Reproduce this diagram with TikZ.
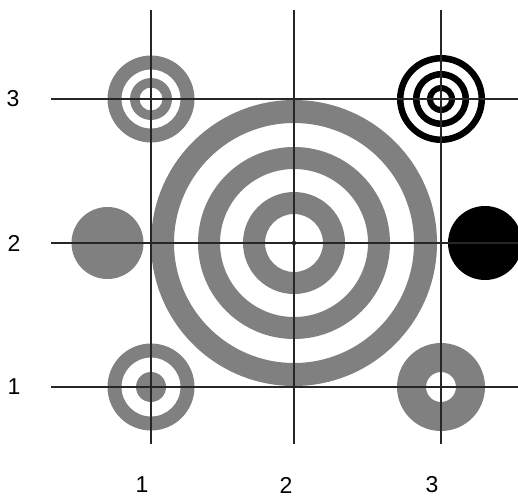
\documentclass[tikz,border=0pt]{standalone}
\usepackage{fontspec}
\setmainfont{Liberation Sans}
\definecolor{ringgray}{HTML}{808080}
\begin{document}
\begin{tikzpicture}[x=1pt,y=-1pt,
  grayring/.style={fill=ringgray,even odd rule},
  blackring/.style={fill=black,even odd rule},
  gridline/.style={draw=black!85,line width=1.3pt},
  lbl/.style={inner sep=0pt,font=\fontsize{23}{23}\selectfont}]
\useasboundingbox (0,0) rectangle (518,498);
\begin{scope}
\clip (0,0) rectangle (518,498);
% grid points
\coordinate (p13) at (151,99);
\coordinate (p23) at (294,99);
\coordinate (p33) at (441,99);
\coordinate (p12) at (151,243);
\coordinate (p22) at (294,243);
\coordinate (p32) at (441,243);
\coordinate (p11) at (151,387);
\coordinate (p21) at (294,387);
\coordinate (p31) at (441,387);
\coordinate (lft) at (107.5,243);
\coordinate (rgt) at (485,243);
% big target
\fill[grayring] (p22) circle (143) circle (120);
\fill[grayring] (p22) circle (96) circle (74);
\fill[grayring] (p22) circle (51) circle (29);
\fill[black] (p22) circle (2.2);
% top-left
\fill[grayring] (p13) circle (43.5) circle (29.5);
\fill[grayring] (p13) circle (21) circle (11.5);
% top-right black
\fill[blackring] (p33) circle (44) circle (37.5);
\fill[blackring] (p33) circle (28) circle (21.5);
\fill[blackring] (p33) circle (14) circle (8);
% discs
\fill[ringgray] (lft) circle (36);
\fill[black] (rgt) circle (37);
% bottom-left
\fill[grayring] (p11) circle (43.5) circle (29.5);
\fill[ringgray] (p11) circle (15);
% bottom-right
\fill[grayring] (p31) circle (44) circle (15);
% grid lines
\coordinate (v1t) at (151,10); \coordinate (v1b) at (151,444);
\coordinate (v2t) at (294,10); \coordinate (v2b) at (294,444);
\coordinate (v3t) at (441,10); \coordinate (v3b) at (441,444);
\coordinate (h3l) at (51,99);  \coordinate (h3r) at (518,99);
\coordinate (h2l) at (51,243); \coordinate (h2r) at (518,243);
\coordinate (h1l) at (51,387); \coordinate (h1r) at (518,387);
\draw[gridline] (v1t) -- (v1b);
\draw[gridline] (v2t) -- (v2b);
\draw[gridline] (v3t) -- (v3b);
\draw[gridline] (h3l) -- (h3r);
\draw[gridline] (h2l) -- (h2r);
\draw[gridline] (h1l) -- (h1r);
\end{scope}
% labels
\node[lbl] (ly3) at (13,99) {3};
\node[lbl] (ly2) at (14,243) {2};
\node[lbl] (ly1) at (14,387) {1};
\node[lbl] (lx1) at (142,485) {1};
\node[lbl] (lx2) at (286,485) {2};
\node[lbl] (lx3) at (432,485) {3};
\end{tikzpicture}
\end{document}
